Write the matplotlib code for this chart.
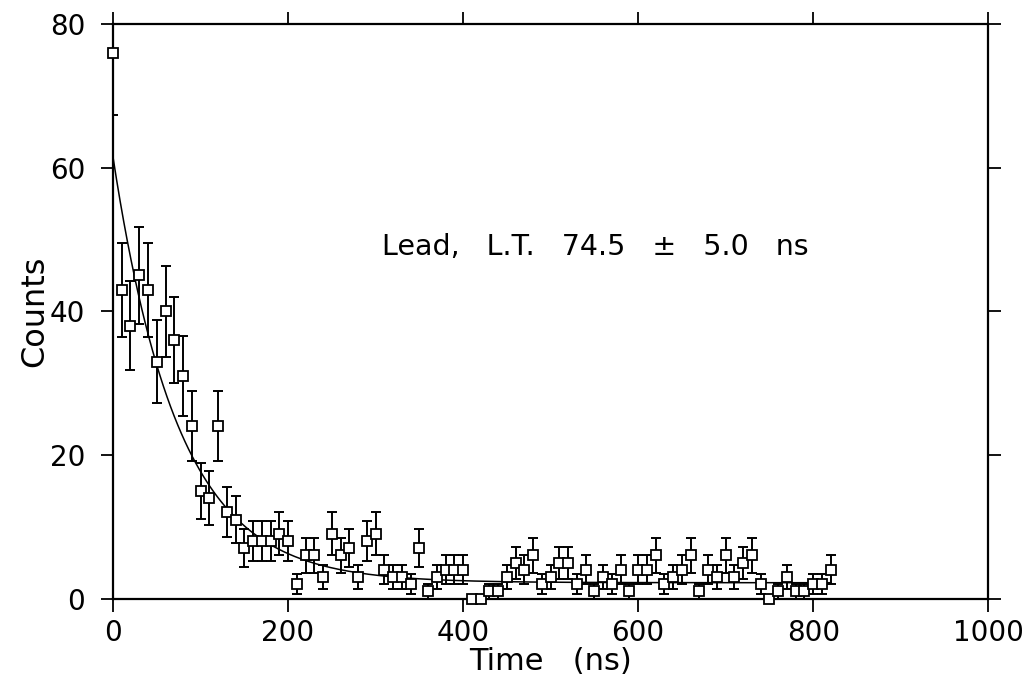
#!/usr/bin/env python

import numpy as np
import matplotlib
matplotlib.use('Agg')
import matplotlib.pyplot as plt

FN_PLOT = 'out.png'

# time bins (ns) and counts
times = list(range(0, 830, 10))
counts = [76, 43, 38, 45, 43, 33, 40, 36, 31, 24,
          15, 14, 24, 12, 11, 7, 8, 8, 8, 9,
          8, 2, 6, 6, 3, 9, 6, 7, 3, 8,
          9, 4, 3, 3, 2, 7, 1, 3, 4, 4,
          4, 0, 0, 1, 1, 3, 5, 4, 6, 2,
          3, 5, 5, 2, 4, 1, 3, 2, 4, 1,
          4, 4, 6, 2, 3, 4, 6, 1, 4, 3,
          6, 3, 5, 6, 2, 0, 1, 3, 1, 1,
          2, 2, 4]

# fitted exponential + flat background
FIT_AMP = 59.3
FIT_TAU = 74.5
FIT_BG = 2.2
FIT_END = 820

LABEL = 'Lead,   L.T.   74.5   \u00b1   5.0   ns'


def plot_decay(fn_out):
    plt.rcParams['font.family'] = ['DejaVu Sans']
    fig = plt.figure(figsize=(10.3, 6.9), dpi=100)
    ax = fig.add_axes([0.1097, 0.1326, 0.8498, 0.8324])

    t = np.array(times)
    n = np.array(counts)
    # error bars (clipped at the frame) then the open squares on top
    ax.errorbar(t, n, yerr=np.sqrt(n), fmt='none', ecolor='black',
                elinewidth=1.4, capsize=3.6, capthick=1.4, zorder=3)
    ax.plot(t, n, 's', mfc='white', mec='black', ms=6.5, mew=1.3,
            clip_on=False, zorder=4)

    tf = np.linspace(0, FIT_END, 400)
    ax.plot(tf, FIT_AMP * np.exp(-tf / FIT_TAU) + FIT_BG, color='black', lw=1.1)

    ax.text(307, 49, LABEL, fontsize=20.5, va='center', ha='left')

    ax.set_xlim(0, 1000)
    ax.set_ylim(0, 80)
    ax.set_xticks(range(0, 1001, 200))
    ax.set_yticks(range(0, 81, 20))
    ax.tick_params(direction='out', length=9, width=1.3, labelsize=20,
                   top=True, right=True, labeltop=False, labelright=False)
    ax.tick_params(axis='x', pad=6)
    ax.tick_params(axis='y', pad=11)
    for s in ax.spines.values():
        s.set_linewidth(1.6)
    ax.set_xlabel('Time   (ns)', fontsize=22, labelpad=0)
    ax.set_ylabel('Counts', fontsize=23, labelpad=0)

    fig.savefig(fn_out, dpi=100)


if __name__ == '__main__':
    plot_decay(FN_PLOT)
